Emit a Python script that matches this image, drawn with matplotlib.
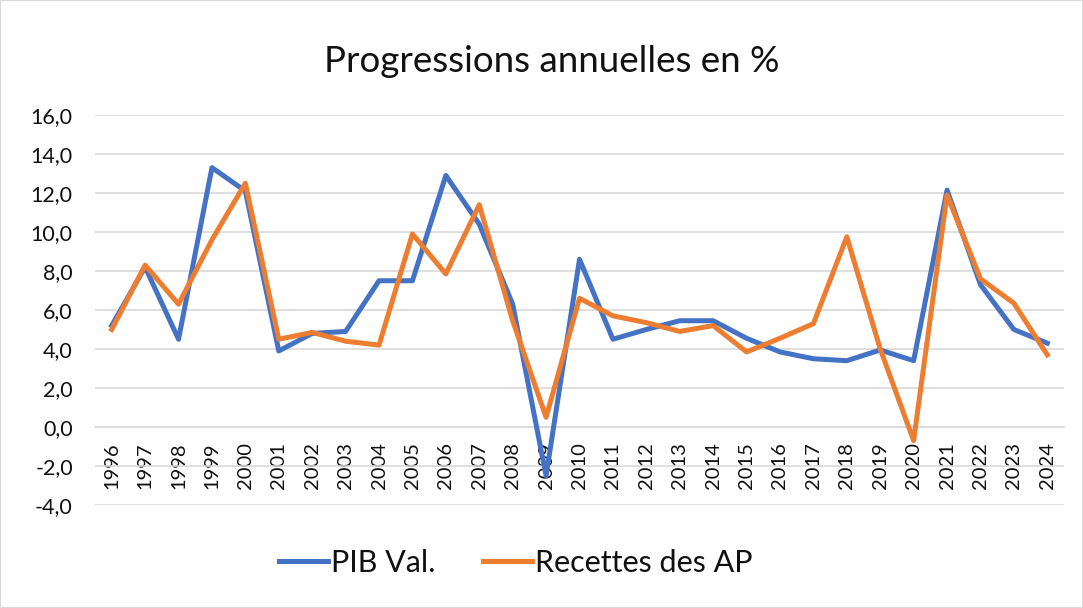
import matplotlib
matplotlib.use("Agg")
import matplotlib.pyplot as plt
from matplotlib.patches import Rectangle

plt.rcParams['font.family'] = ['Lato', 'DejaVu Sans']

# === Data ===
years = [str(y) for y in range(1996, 2025)]
pib_val = [5.2, 8.2, 4.5, 13.3, 12.1, 3.9, 4.8, 4.9, 7.5, 7.5,
           12.9, 10.4, 6.3, -2.5, 8.6, 4.5, 5.0, 5.45, 5.45, 4.55,
           3.85, 3.5, 3.4, 3.95, 3.4, 12.15, 7.3, 5.0, 4.3]
recettes_ap = [5.0, 8.3, 6.3, 9.6, 12.5, 4.5, 4.85, 4.4, 4.2, 9.9,
               7.85, 11.4, 5.45, 0.5, 6.6, 5.7, 5.35, 4.9, 5.2, 3.85,
               4.55, 5.3, 9.75, 4.0, -0.7, 11.9, 7.6, 6.35, 3.7]
y_ticks = [-4, -2, 0, 2, 4, 6, 8, 10, 12, 14, 16]

blue = '#4472C4'
orange = '#ED7D31'

fig = plt.figure(figsize=(10.83, 6.08), dpi=100)
ax = fig.add_axes([95 / 1083, 1 - 505 / 608, (1064 - 95) / 1083, (505 - 115) / 608])

x = list(range(len(years)))
ax.plot(x, pib_val, color=blue, lw=3.6, label='PIB Val.', solid_joinstyle='round', zorder=3)
ax.plot(x, recettes_ap, color=orange, lw=3.6, label='Recettes des AP', solid_joinstyle='round', zorder=4)

ax.set_xlim(-0.5, len(years) - 0.5)
ax.set_ylim(-4, 16)
ax.set_yticks(y_ticks)
ax.set_yticklabels([f"{v:.1f}".replace('.', ',') for v in y_ticks])
ax.yaxis.grid(True, color='#D9D9D9', lw=1.2)
ax.set_axisbelow(True)

# category axis crosses at 0
ax.spines['bottom'].set_position(('data', 0))
ax.spines['bottom'].set_color('#D9D9D9')
ax.spines['bottom'].set_linewidth(1.2)
for s in ['top', 'right', 'left']:
    ax.spines[s].set_visible(False)
ax.set_xticks(x)
ax.set_xticklabels(years, rotation=90, fontsize=14.5, color='#111111')
ax.tick_params(axis='x', length=0, pad=11)
ax.tick_params(axis='y', length=0, pad=16, labelsize=15.5, labelcolor='#111111')

fig.text(552 / 1083, 1 - 61 / 608, 'Progressions annuelles en %', ha='center', va='center',
         fontsize=26.5, color='#111111')

leg = fig.legend(loc='center', bbox_to_anchor=(516 / 1083, 1 - 563 / 608), ncol=2,
                 frameon=False, fontsize=22, handlelength=1.6, handletextpad=0.1,
                 columnspacing=1.55)
for line in leg.get_lines():
    line.set_linewidth(3.6)
for t in leg.get_texts():
    t.set_color('#111111')

fig.patches.append(Rectangle((0, 0), 1, 1, transform=fig.transFigure, fill=False,
                             edgecolor='#D9D9D9', lw=1.5))

fig.savefig('out.png', dpi=100)
